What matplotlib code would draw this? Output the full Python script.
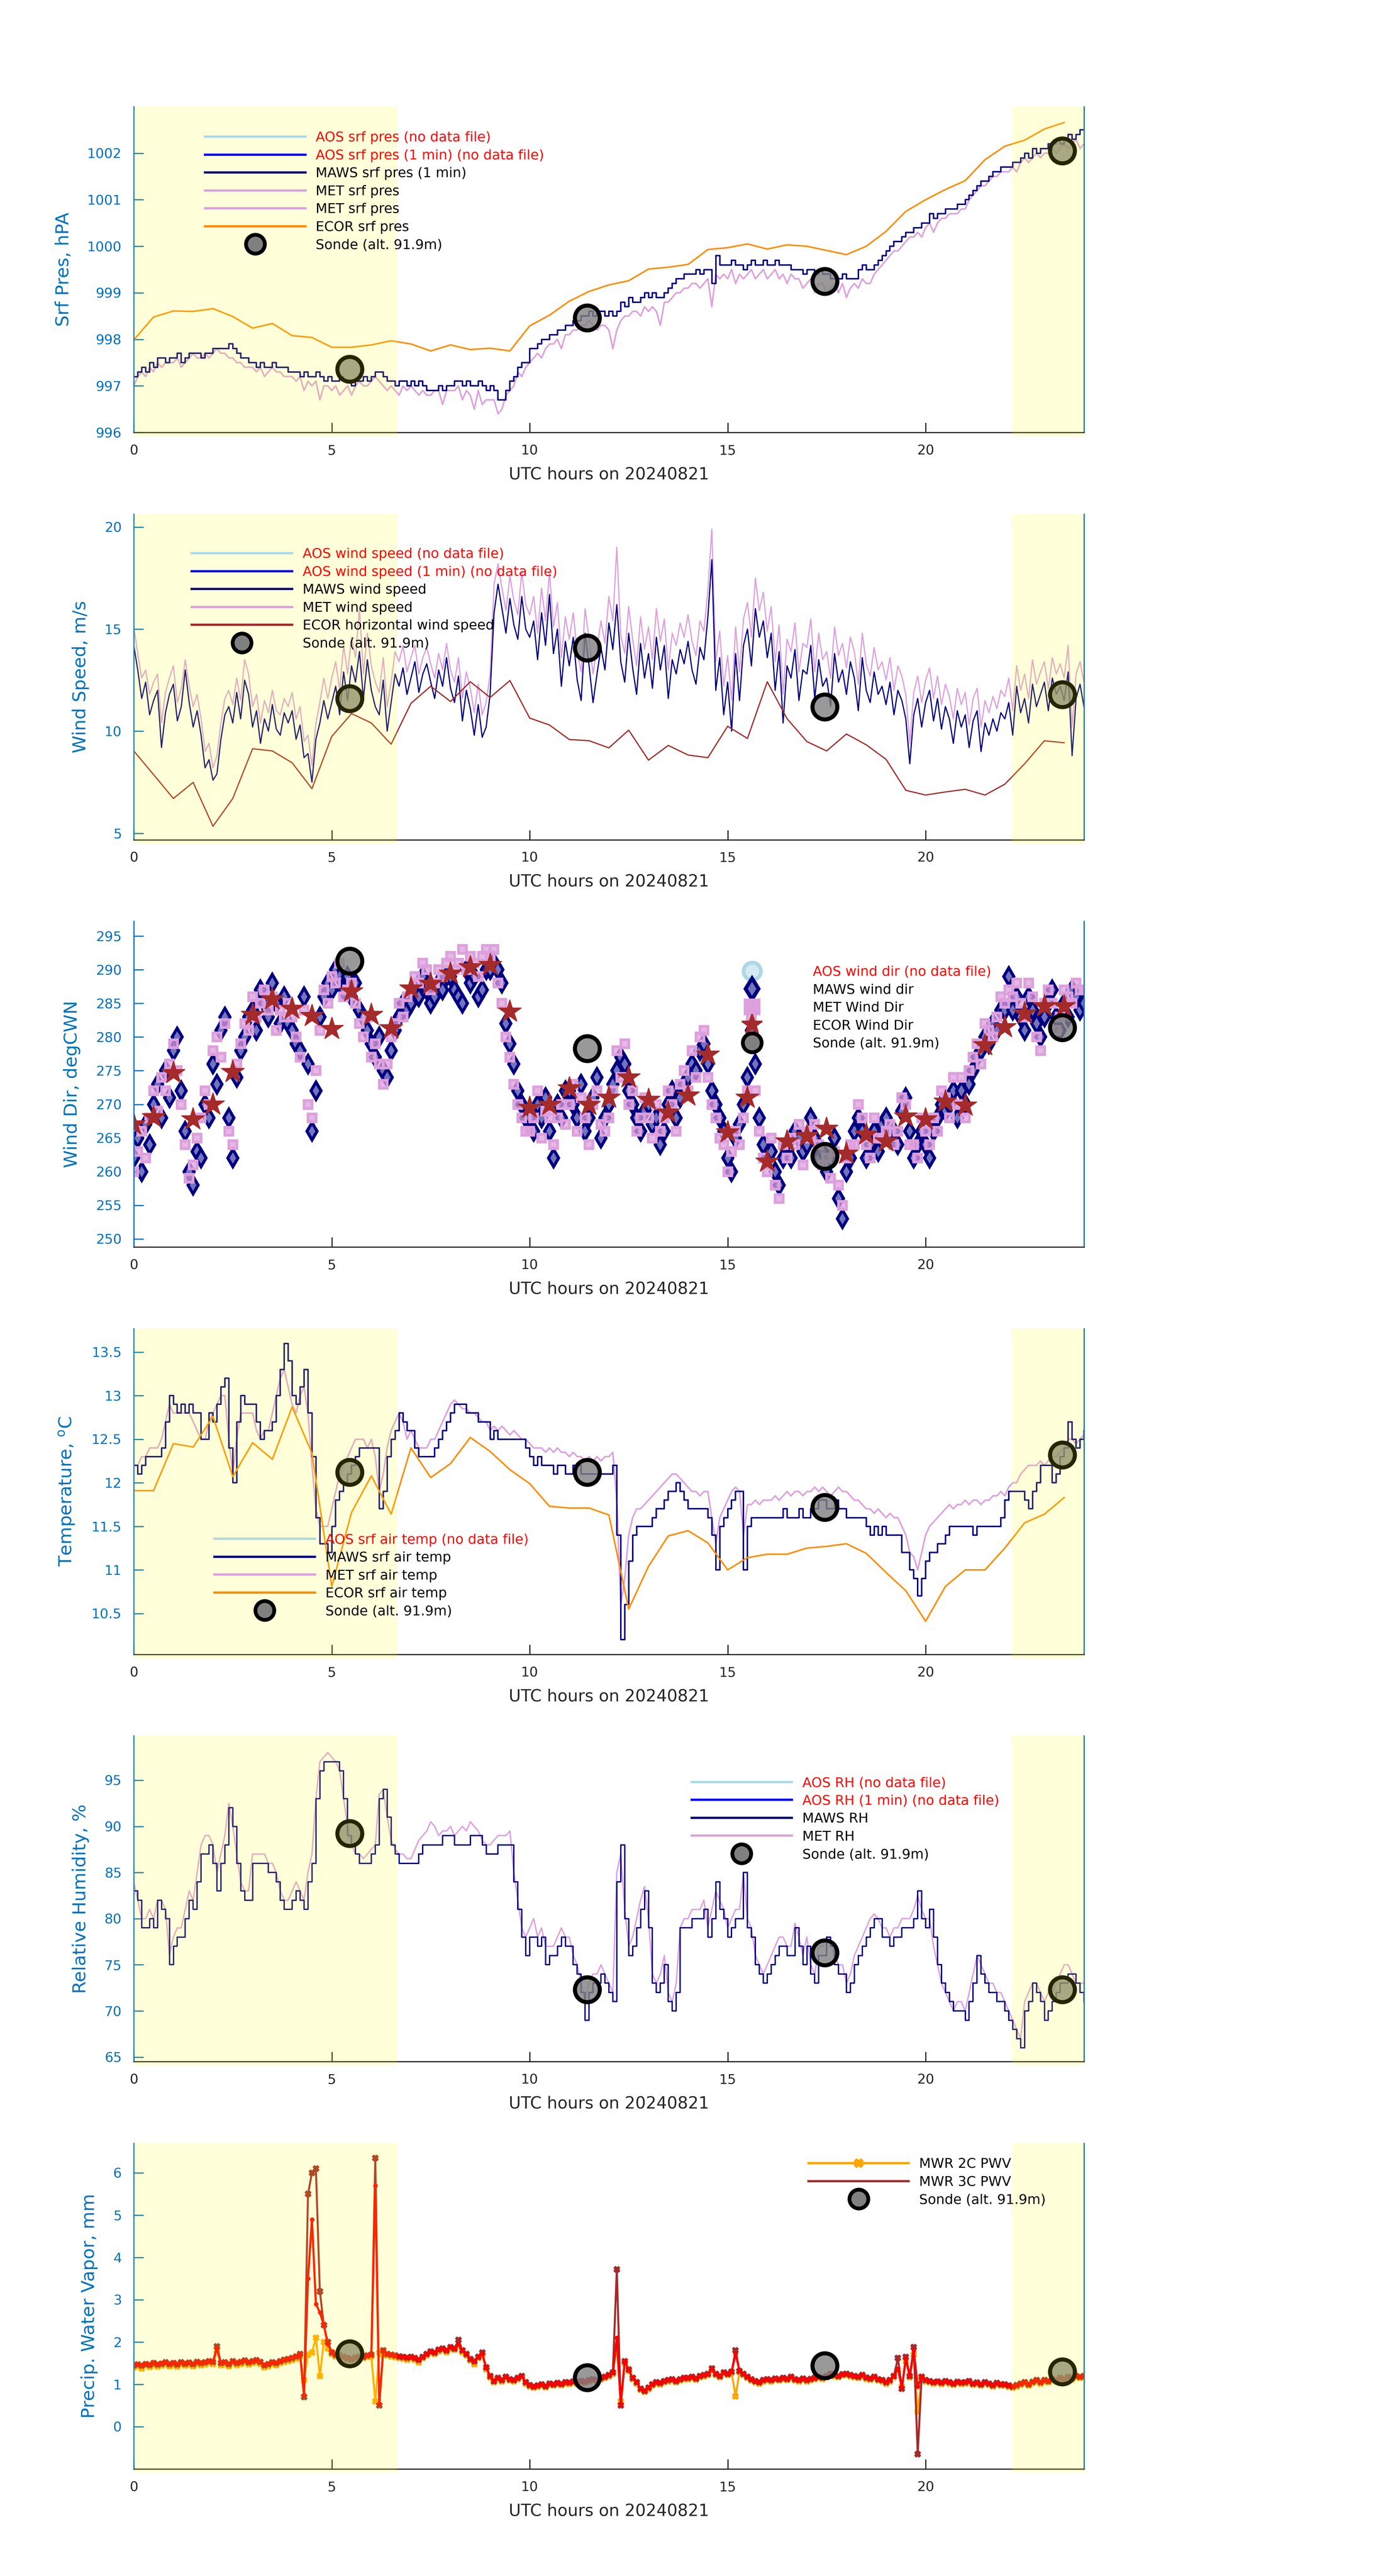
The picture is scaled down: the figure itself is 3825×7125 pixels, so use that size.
import numpy as np
import matplotlib
matplotlib.use("Agg")
import matplotlib.pyplot as plt
from matplotlib.lines import Line2D
from matplotlib.ticker import FormatStrFormatter

# ---------------- data ----------------
date_str = "20240821"
night_spans = [(0.0, 6.65), (22.17, 24.0)]

sonde_t = [5.45, 11.45, 17.45, 23.45]
sonde_pres = [997.36, 998.46, 999.25, 1002.05]
sonde_wspd = [11.6, 14.08, 11.2, 11.79]
sonde_wdir = [291.3, 278.3, 262.3, 281.4]
sonde_temp = [12.12, 12.12, 11.72, 12.32]
sonde_rh = [89.25, 72.3, 76.3, 72.3]
sonde_pwv = [1.73, 1.16, 1.44, 1.30]

# surface pressure, hPa (0.1 h steps, 0..24 h)
maws_pres = [
    997.2, 997.3, 997.4, 997.3, 997.5, 997.4, 997.6, 997.6, 997.5, 997.6,
    997.6, 997.7, 997.5, 997.6, 997.7, 997.7, 997.7, 997.6, 997.7, 997.7,
    997.8, 997.8, 997.8, 997.8, 997.9, 997.8, 997.7, 997.6, 997.6, 997.5,
    997.5, 997.4, 997.5, 997.4, 997.4, 997.5, 997.4, 997.4, 997.4, 997.3,
    997.3, 997.3, 997.2, 997.3, 997.2, 997.2, 997.3, 997.2, 997.1, 997.2,
    997.1, 997.1, 997.2, 997.1, 997.1, 997.0, 997.1, 997.1, 997.2, 997.1,
    997.2, 997.3, 997.3, 997.2, 997.1, 997.1, 997.0, 997.1, 997.1, 997.0,
    997.1, 997.0, 997.1, 997.0, 996.9, 996.9, 996.9, 997.0, 996.9, 997.0,
    997.0, 997.1, 997.1, 997.0, 997.1, 997.0, 997.0, 997.1, 997.0, 996.9,
    997.0, 996.9, 996.7, 996.7, 996.9, 997.1, 997.2, 997.4, 997.5, 997.5,
    997.8, 997.8, 997.9, 998.0, 998.0, 998.1, 998.1, 998.2, 998.2, 998.3,
    998.3, 998.4, 998.4, 998.5, 998.5, 998.6, 998.5, 998.6, 998.6, 998.5,
    998.6, 998.5, 998.6, 998.8, 998.7, 998.9, 998.8, 998.8, 998.9, 999.0,
    998.9, 999.0, 998.9, 998.9, 999.0, 999.1, 999.2, 999.3, 999.3, 999.4,
    999.4, 999.4, 999.5, 999.4, 999.5, 999.5, 999.2, 999.8, 999.6, 999.6,
    999.6, 999.7, 999.6, 999.6, 999.5, 999.6, 999.7, 999.6, 999.6, 999.7,
    999.6, 999.6, 999.7, 999.6, 999.6, 999.6, 999.5, 999.5, 999.5, 999.4,
    999.5, 999.5, 999.4, 999.5, 999.4, 999.4, 999.3, 999.3, 999.3, 999.4,
    999.3, 999.3, 999.3, 999.5, 999.6, 999.5, 999.5, 999.6, 999.7, 999.8,
    999.9, 1000.0, 1000.1, 1000.1, 1000.2, 1000.3, 1000.3, 1000.4, 1000.4, 1000.5,
    1000.5, 1000.7, 1000.6, 1000.7, 1000.7, 1000.8, 1000.8, 1000.8, 1000.9, 1000.9,
    1001.0, 1001.1, 1001.2, 1001.3, 1001.4, 1001.4, 1001.5, 1001.6, 1001.6, 1001.7,
    1001.7, 1001.7, 1001.8, 1001.8, 1001.9, 1002.0, 1001.9, 1002.1, 1002.0, 1002.1,
    1002.1, 1002.2, 1002.2, 1002.3, 1002.2, 1002.3, 1002.4, 1002.3, 1002.4, 1002.5,
    1002.5]
met_pres = [
    997.0, 997.2, 997.3, 997.2, 997.4, 997.3, 997.5, 997.4, 997.5, 997.5,
    997.5, 997.6, 997.4, 997.5, 997.6, 997.7, 997.6, 997.6, 997.7, 997.6,
    997.7, 997.8, 997.7, 997.7, 997.6, 997.6, 997.5, 997.5, 997.4, 997.4,
    997.4, 997.3, 997.4, 997.2, 997.3, 997.4, 997.3, 997.3, 997.2, 997.2,
    997.2, 997.1, 997.2, 996.9, 997.1, 997.0, 997.1, 996.7, 997.0, 997.0,
    996.9, 997.0, 996.8, 996.9, 997.0, 996.8, 997.0, 997.1, 997.0, 997.0,
    997.1, 997.2, 997.1, 997.0, 996.9, 997.0, 996.9, 996.8, 997.0, 996.9,
    997.0, 996.9, 996.8, 996.9, 996.8, 996.8, 996.9, 996.9, 996.6, 996.9,
    996.9, 996.9, 997.0, 996.7, 996.9, 996.8, 996.5, 996.9, 996.6, 996.7,
    996.7, 996.7, 996.4, 996.5, 996.8, 996.9, 997.0, 997.3, 997.2, 997.4,
    997.5, 997.6, 997.7, 997.6, 997.8, 997.9, 997.9, 998.0, 997.8, 998.1,
    998.1, 998.2, 998.2, 998.3, 998.3, 998.4, 998.3, 998.2, 998.3, 998.3,
    998.2, 997.8, 998.2, 998.4, 998.5, 998.5, 998.6, 998.6, 998.5, 998.7,
    998.6, 998.7, 998.6, 998.3, 998.8, 998.8, 998.9, 999.0, 999.0, 999.1,
    999.1, 999.2, 999.2, 999.1, 999.2, 999.3, 998.7, 999.4, 999.3, 999.4,
    999.3, 999.5, 999.2, 999.4, 999.3, 999.4, 999.5, 999.3, 999.4, 999.5,
    999.3, 999.4, 999.5, 999.3, 999.4, 999.2, 999.4, 999.3, 999.3, 999.1,
    999.2, 999.3, 999.0, 999.2, 999.2, 999.0, 999.1, 999.2, 999.0, 999.2,
    998.9, 999.1, 999.2, 999.1, 999.3, 999.2, 999.2, 999.4, 999.5, 999.6,
    999.7, 999.8, 999.9, 999.9, 1000.0, 1000.1, 1000.2, 1000.2, 1000.3, 1000.2,
    1000.4, 1000.5, 1000.3, 1000.5, 1000.6, 1000.6, 1000.7, 1000.7, 1000.7, 1000.8,
    1000.8, 1001.0, 1001.1, 1001.2, 1001.3, 1001.3, 1001.4, 1001.5, 1001.5, 1001.6,
    1001.6, 1001.6, 1001.7, 1001.6, 1001.8, 1001.9, 1001.8, 1001.9, 1002.0, 1001.9,
    1002.0, 1002.0, 1002.1, 1002.0, 1002.1, 1002.2, 1002.1, 1002.2, 1002.3, 1002.1,
    1002.2]
# ECOR, half-hourly
ecor_pres = [
    997.99, 998.48, 998.61, 998.60, 998.66, 998.49, 998.24, 998.34, 998.08, 998.04,
    997.83, 997.83, 997.88, 997.97, 997.90, 997.75, 997.88, 997.78, 997.81, 997.75,
    998.29, 998.52, 998.82, 999.03, 999.17, 999.26, 999.51, 999.55, 999.61, 999.93,
    999.97, 1000.05, 999.94, 1000.03, 1000.00, 999.91, 999.82, 1000.00, 1000.32, 1000.75,
    1001.00, 1001.22, 1001.41, 1001.86, 1002.15, 1002.28, 1002.52, 1002.66]

# wind speed, m/s
maws_wspd = [
    14.2, 13.0, 11.6, 12.4, 10.8, 11.5, 12.0, 9.2, 10.9, 11.8,
    12.3, 10.5, 11.2, 13.0, 11.4, 10.2, 11.0, 9.8, 8.2, 8.6,
    7.6, 7.9, 9.6, 10.8, 11.2, 10.4, 11.9, 10.6, 12.5, 11.8,
    10.2, 11.0, 9.4, 10.6, 10.0, 11.3, 10.1, 9.8, 10.9, 10.4,
    11.0, 9.6, 10.3, 8.7, 8.9, 7.5, 9.6, 10.4, 11.5, 10.6,
    11.4, 12.2, 10.8, 12.9, 11.5, 13.2, 12.4, 13.9, 11.6, 13.5,
    12.0, 11.2, 10.8, 12.5, 10.0, 11.4, 12.8, 12.2, 13.1, 11.8,
    12.6, 13.4, 11.9, 12.8, 13.3, 12.4, 11.6, 13.0, 12.2, 13.6,
    12.1, 11.4, 12.7, 10.5, 12.0, 11.1, 9.8, 11.3, 9.7, 10.2,
    11.8, 15.8, 17.2, 16.0, 14.8, 16.5, 15.2, 14.5, 16.6, 15.0,
    14.6, 15.4, 13.5, 15.8, 14.2, 16.7, 13.8, 15.0, 12.2, 14.4,
    13.2, 14.6, 12.5, 11.5, 14.8, 13.2, 11.4, 12.8, 14.1, 13.0,
    15.3, 14.0, 16.2, 13.4, 12.4, 14.8, 13.1, 11.8, 14.3, 12.6,
    13.8, 12.1, 14.6, 13.0, 14.2, 11.6, 13.5, 12.8, 14.0, 13.3,
    14.4, 13.0, 12.3, 14.1, 13.5, 15.6, 18.4, 12.0, 13.6, 10.8,
    12.4, 10.0, 13.8, 11.5, 14.2, 15.0, 13.2, 16.0, 14.6, 15.4,
    13.6, 14.8, 12.0, 13.9, 10.4, 13.2, 12.6, 14.0, 11.5, 13.0,
    12.8, 14.2, 11.6, 13.5, 12.2, 12.6, 11.2, 13.8, 12.4, 13.0,
    11.8, 13.4, 12.6, 11.0, 13.6, 12.0, 11.4, 12.9, 11.8, 12.2,
    11.3, 12.4, 10.8, 12.0, 11.5, 10.6, 8.4, 10.8, 11.6, 10.2,
    11.4, 12.0, 10.5, 11.6, 10.1, 11.2, 10.6, 9.4, 11.0, 10.2,
    10.8, 9.2, 10.5, 11.0, 9.0, 10.4, 9.8, 10.6, 10.0, 10.9,
    10.6, 11.4, 9.8, 12.2, 10.9, 11.6, 10.4, 12.3, 11.2, 11.8,
    12.4, 11.0, 12.6, 11.8, 12.2, 11.5, 12.9, 8.8, 11.6, 12.3,
    11.2]
met_wspd = [
    15.1, 13.8, 12.6, 13.0, 11.8, 12.4, 12.8, 10.4, 11.9, 12.6,
    13.2, 11.4, 12.1, 13.5, 12.2, 11.2, 11.8, 10.6, 9.0, 9.4,
    8.2, 8.8, 10.4, 11.6, 12.0, 11.3, 12.6, 11.5, 13.5, 12.8,
    11.2, 11.8, 10.4, 11.5, 10.9, 12.0, 11.0, 10.8, 11.6, 11.2,
    11.9, 10.6, 11.2, 9.5, 9.8, 8.3, 10.4, 11.4, 12.6, 11.6,
    12.6, 13.4, 12.0, 14.2, 12.8, 14.6, 13.6, 16.0, 12.8, 14.8,
    13.2, 12.4, 11.9, 13.6, 11.2, 12.4, 13.9, 13.4, 14.2, 12.9,
    13.6, 14.2, 12.8, 13.6, 14.1, 13.3, 12.6, 13.8, 13.0, 14.3,
    13.0, 12.4, 13.6, 11.6, 12.9, 12.1, 10.9, 12.3, 10.8, 11.4,
    12.8, 17.2, 18.2, 17.0, 15.9, 17.6, 16.4, 15.7, 17.8, 16.2,
    15.7, 16.6, 14.8, 17.0, 15.4, 17.8, 15.1, 16.3, 13.6, 15.6,
    14.5, 15.8, 13.9, 12.9, 16.0, 14.5, 12.8, 14.1, 15.4, 14.3,
    16.6, 15.4, 19.0, 14.7, 13.8, 16.1, 14.5, 13.2, 15.6, 14.0,
    15.1, 13.5, 16.0, 14.4, 15.5, 13.0, 14.8, 14.2, 15.3, 14.6,
    15.7, 14.4, 13.7, 15.4, 14.9, 16.9, 19.9, 13.4, 14.9, 12.2,
    13.7, 11.5, 15.1, 12.9, 15.5, 16.3, 14.6, 17.5, 15.9, 16.8,
    14.9, 16.1, 13.4, 15.2, 11.8, 14.5, 13.9, 15.3, 12.9, 14.3,
    14.1, 15.5, 12.9, 14.8, 13.5, 13.9, 12.6, 15.1, 13.7, 14.3,
    13.1, 14.6, 13.9, 12.3, 14.8, 13.3, 12.7, 14.1, 13.0, 13.4,
    12.5, 13.6, 12.0, 13.2, 12.7, 11.8, 9.4, 11.9, 12.7, 11.4,
    12.5, 13.1, 11.6, 12.7, 11.3, 12.3, 11.7, 10.6, 12.1, 11.3,
    11.9, 10.3, 11.6, 12.1, 10.2, 11.5, 10.9, 11.7, 11.1, 12.0,
    11.7, 12.6, 11.0, 13.2, 12.0, 12.8, 11.6, 13.5, 12.3, 12.9,
    13.4, 12.1, 13.6, 12.8, 13.3, 12.6, 14.2, 10.2, 12.8, 13.4,
    12.4]
ecor_wspd = [
    9.03, 7.87, 6.70, 7.49, 5.34, 6.70, 9.14, 9.03, 8.45, 7.18,
    9.74, 10.86, 10.40, 9.36, 11.36, 12.20, 11.45, 12.42, 11.65, 12.48,
    10.64, 10.30, 9.59, 9.53, 9.18, 10.05, 8.58, 9.30, 8.83, 8.70,
    10.24, 9.64, 12.42, 10.61, 9.49, 9.03, 9.86, 9.33, 8.62, 7.10,
    6.87, 7.02, 7.15, 6.87, 7.40, 8.40, 9.53, 9.43]

# wind direction, deg CW from N
maws_wdir = [
    262, 265, 260, 267, 264, 270, 273, 268, 275, 271,
    278, 280, 272, 266, 260, 258, 263, 262, 270, 268,
    276, 273, 281, 283, 268, 262, 274, 278, 280, 283,
    284, 281, 287, 285, 283, 288, 285, 282, 286, 282,
    281, 279, 278, 286, 276, 266, 272, 283, 286, 288,
    287, 290, 289, 287, 289, 286, 288, 284, 283, 281,
    279, 277, 280, 275, 274, 278, 281, 283, 285, 284,
    285, 287, 286, 289, 287, 285, 286, 288, 287, 289,
    289, 287, 286, 285, 290, 288, 289, 286, 287, 290,
    290, 291, 290, 288, 282, 279, 276, 272, 270, 268,
    268, 266, 270, 268, 271, 266, 262, 270, 268, 272,
    272, 270, 268, 273, 266, 268, 271, 274, 265, 268,
    270, 273, 275, 277, 276, 272, 270, 268, 266, 269,
    270, 267, 268, 264, 266, 270, 272, 268, 271, 273,
    274, 276, 275, 278, 279, 276, 272, 270, 268, 266,
    262, 260, 265, 267, 270, 274, 281, 276, 268, 264,
    262, 263, 260, 258, 262, 264, 262, 266, 265, 263,
    264, 268, 265, 262, 263, 260, 262, 265, 256, 253,
    260, 262, 266, 268, 266, 262, 264, 266, 263, 267,
    268, 265, 266, 264, 269, 271, 266, 262, 264, 266,
    264, 262, 266, 268, 270, 269, 270, 272, 268, 272,
    270, 273, 275, 277, 278, 280, 279, 282, 281, 284,
    284, 289, 284, 286, 283, 281, 286, 284, 282, 280,
    283, 285, 287, 283, 281, 285, 283, 287, 286, 284,
    285]
met_wdir = [
    260, 263, 266, 262, 268, 272, 269, 274, 272, 276,
    279, 275, 270, 264, 259, 261, 265, 268, 272, 270,
    278, 280, 277, 282, 266, 264, 276, 279, 282, 281,
    286, 283, 285, 287, 284, 286, 281, 284, 283, 285,
    283, 280, 277, 284, 270, 268, 275, 281, 287, 285,
    289, 288, 291, 286, 287, 288, 285, 282, 280, 283,
    277, 279, 276, 273, 276, 280, 282, 285, 283, 286,
    287, 289, 288, 291, 290, 287, 288, 290, 289, 291,
    292, 290, 291, 293, 290, 292, 291, 289, 292, 293,
    292, 293, 288, 285, 280, 277, 273, 270, 268, 266,
    266, 268, 272, 265, 269, 268, 264, 268, 270, 267,
    270, 273, 266, 271, 268, 264, 270, 272, 267, 266,
    268, 272, 278, 274, 279, 270, 272, 266, 268, 271,
    268, 265, 270, 266, 268, 272, 270, 266, 273, 275,
    272, 278, 274, 280, 281, 274, 270, 268, 265, 264,
    260, 263, 266, 264, 268, 272, 283, 272, 266, 262,
    260, 265, 258, 256, 264, 262, 265, 264, 267, 261,
    266, 265, 267, 264, 261, 262, 259, 263, 258, 255,
    262, 264, 264, 270, 268, 264, 262, 268, 265, 265,
    266, 267, 264, 266, 271, 270, 264, 264, 262, 268,
    266, 264, 268, 266, 272, 271, 268, 274, 270, 274,
    268, 275, 277, 279, 276, 282, 281, 280, 283, 286,
    285, 287, 286, 288, 285, 283, 288, 286, 280, 278,
    285, 287, 285, 281, 283, 287, 286, 285, 288, 287,
    287]
ecor_wdir = [
    267.0, 268.1, 274.65, 267.75, 270.0, 274.8, 283.3, 285.6, 284.2, 283.15,
    281.2, 286.8, 283.3, 281.3, 287.2, 287.9, 289.4, 290.4, 290.7, 283.8,
    269.5, 269.9, 272.4, 269.9, 271.0, 274.0, 270.65, 268.8, 271.3, 277.4,
    265.85, 271.0, 261.5, 264.5, 265.3, 266.4, 262.65, 265.5, 264.5, 268.2,
    267.75, 270.4, 269.8, 278.8, 281.45, 283.5, 284.6, 284.6]

# air temperature, deg C
maws_temp = [
    12.2, 12.1, 12.2, 12.3, 12.3, 12.3, 12.3, 12.4, 12.7, 13.0,
    12.9, 12.8, 12.9, 12.8, 12.9, 12.8, 12.8, 12.5, 12.5, 12.8,
    12.7, 12.9, 13.1, 13.2, 12.4, 12.0, 12.7, 13.0, 12.9, 12.9,
    12.9, 12.7, 12.5, 12.6, 12.6, 12.7, 13.0, 13.3, 13.6, 13.4,
    13.0, 12.9, 13.1, 13.3, 12.8, 12.3, 11.6, 11.3, 11.3, 11.2,
    11.5, 11.8, 11.9, 12.0, 12.1, 12.2, 12.3, 12.4, 12.4, 12.4,
    12.4, 12.4, 11.7, 11.9, 12.3, 12.5, 12.6, 12.8, 12.7, 12.6,
    12.6, 12.4, 12.3, 12.3, 12.3, 12.3, 12.4, 12.5, 12.6, 12.7,
    12.8, 12.9, 12.9, 12.9, 12.8, 12.8, 12.8, 12.7, 12.7, 12.7,
    12.5, 12.6, 12.5, 12.5, 12.5, 12.5, 12.5, 12.5, 12.5, 12.4,
    12.3, 12.2, 12.3, 12.2, 12.2, 12.2, 12.1, 12.2, 12.2, 12.1,
    12.1, 12.2, 12.2, 12.1, 12.1, 12.1, 12.1, 12.1, 12.1, 12.1,
    12.1, 12.2, 11.4, 10.2, 10.6, 11.1, 11.4, 11.5, 11.5, 11.5,
    11.5, 11.6, 11.7, 11.7, 11.8, 11.9, 11.9, 12.0, 11.9, 11.8,
    11.7, 11.7, 11.7, 11.7, 11.7, 11.6, 11.4, 11.0, 11.5, 11.6,
    11.7, 11.8, 11.9, 11.9, 11.0, 11.5, 11.6, 11.6, 11.6, 11.6,
    11.6, 11.6, 11.6, 11.6, 11.7, 11.6, 11.6, 11.6, 11.7, 11.6,
    11.6, 11.7, 11.7, 11.8, 11.8, 11.7, 11.7, 11.8, 11.7, 11.7,
    11.6, 11.6, 11.6, 11.6, 11.6, 11.5, 11.4, 11.5, 11.4, 11.5,
    11.4, 11.4, 11.4, 11.4, 11.2, 11.2, 11.0, 10.9, 10.7, 10.9,
    11.1, 11.2, 11.2, 11.3, 11.3, 11.4, 11.5, 11.5, 11.5, 11.5,
    11.5, 11.5, 11.4, 11.5, 11.5, 11.5, 11.5, 11.5, 11.5, 11.6,
    11.8, 11.9, 11.9, 11.9, 11.9, 11.8, 11.7, 11.9, 12.0, 12.2,
    12.2, 12.2, 12.0, 12.1, 12.3, 12.4, 12.7, 12.5, 12.4, 12.5,
    12.6]
met_temp = [
    12.2, 12.2, 12.3, 12.3, 12.4, 12.4, 12.4, 12.5, 12.7, 12.9,
    12.8, 12.8, 12.8, 12.8, 12.8, 12.7, 12.6, 12.5, 12.5, 12.7,
    12.8, 12.9, 13.0, 13.0, 12.5, 12.1, 12.5, 12.8, 12.8, 12.8,
    12.8, 12.6, 12.5, 12.6, 12.6, 12.8, 13.0, 13.2, 13.3, 13.1,
    12.9, 12.8, 13.0, 13.1, 12.8, 12.2, 11.7, 11.5, 11.5, 11.5,
    11.7, 11.9, 12.1, 12.2, 12.3, 12.4, 12.5, 12.5, 12.5, 12.4,
    12.5, 12.3, 11.9, 12.1, 12.4, 12.6, 12.7, 12.8, 12.7, 12.5,
    12.6, 12.5, 12.4, 12.4, 12.4, 12.5, 12.5, 12.6, 12.7, 12.8,
    12.9, 12.95, 12.9, 12.85, 12.85, 12.8, 12.8, 12.75, 12.7, 12.7,
    12.6, 12.65, 12.6, 12.65, 12.6, 12.55, 12.6, 12.55, 12.5, 12.5,
    12.45, 12.4, 12.4, 12.4, 12.35, 12.4, 12.35, 12.4, 12.35, 12.35,
    12.3, 12.35, 12.3, 12.3, 12.25, 12.3, 12.25, 12.3, 12.25, 12.3,
    12.3, 12.35, 11.8, 10.6, 10.9, 11.4, 11.6, 11.7, 11.7, 11.75,
    11.8, 11.85, 11.9, 11.95, 12.0, 12.05, 12.1, 12.1, 12.05, 12.0,
    11.95, 11.9, 11.9, 11.85, 11.9, 11.9, 11.6, 11.3, 11.6, 11.7,
    11.8, 11.9, 11.95, 11.9, 11.4, 11.75, 11.75, 11.8, 11.75, 11.8,
    11.8, 11.8, 11.85, 11.8, 11.85, 11.9, 11.85, 11.9, 11.9, 11.85,
    11.9, 11.9, 11.95, 11.9, 11.95, 11.9, 11.85, 11.9, 11.95, 11.9,
    11.9, 11.85, 11.8, 11.8, 11.75, 11.7, 11.7, 11.65, 11.7, 11.65,
    11.6, 11.65, 11.6, 11.6, 11.5, 11.4, 11.2, 11.15, 11.0, 11.2,
    11.4, 11.5, 11.55, 11.6, 11.65, 11.7, 11.75, 11.7, 11.75, 11.75,
    11.8, 11.75, 11.8, 11.8, 11.75, 11.8, 11.8, 11.85, 11.85, 11.9,
    11.85, 11.95, 12.0, 12.0, 12.1, 12.15, 12.2, 12.2, 12.2, 12.25,
    12.2, 12.25, 12.3, 12.3, 12.35, 12.4, 12.5, 12.5, 12.45, 12.5,
    12.55]
ecor_temp = [
    11.91, 11.91, 12.45, 12.41, 12.76, 12.07, 12.46, 12.27, 12.87, 12.34,
    10.81, 11.66, 12.08, 11.64, 12.40, 12.06, 12.22, 12.52, 12.36, 12.15,
    11.99, 11.73, 11.71, 11.71, 11.63, 10.55, 11.04, 11.39, 11.45, 11.31,
    11.00, 11.14, 11.18, 11.18, 11.25, 11.27, 11.30, 11.19, 10.97, 10.76,
    10.41, 10.81, 11.00, 11.00, 11.25, 11.54, 11.64, 11.83]

# relative humidity, %
maws_rh = [
    83, 82, 79, 79, 80, 79, 82, 81, 80, 75,
    77, 78, 78, 80, 82, 81, 84, 87, 87, 88,
    86, 83, 86, 88, 92, 90, 86, 83, 82, 82,
    86, 86, 86, 86, 85, 85, 84, 82, 81, 81,
    82, 83, 82, 81, 84, 86, 93, 96, 97, 97,
    97, 97, 96, 93, 89, 88, 87, 86, 86, 86,
    87, 88, 93, 94, 91, 88, 87, 86, 86, 86,
    86, 86, 87, 88, 88, 88, 88, 88, 89, 89,
    89, 88, 88, 88, 88, 89, 89, 89, 88, 87,
    87, 87, 88, 88, 88, 88, 84, 81, 78, 76,
    78, 78, 77, 78, 75, 76, 76, 77, 78, 77,
    77, 75, 74, 72, 69, 72, 73, 73, 74, 73,
    72, 71, 84, 88, 80, 76, 77, 79, 81, 83,
    79, 73, 72, 73, 75, 71, 70, 72, 79, 79,
    79, 80, 80, 80, 81, 78, 80, 84, 81, 80,
    78, 79, 80, 80, 85, 79, 78, 75, 74, 73,
    74, 75, 76, 77, 77, 76, 76, 79, 77, 75,
    77, 74, 73, 76, 76, 78, 77, 75, 74, 74,
    72, 73, 75, 76, 77, 78, 79, 80, 80, 78,
    78, 77, 78, 78, 79, 79, 79, 80, 83, 80,
    79, 81, 78, 75, 73, 72, 71, 70, 70, 70,
    69, 71, 73, 76, 74, 73, 72, 72, 71, 71,
    70, 69, 68, 67, 66, 70, 71, 73, 72, 71,
    69, 70, 71, 72, 73, 73, 74, 74, 73, 72,
    71]
met_rh = [
    84, 82, 80, 80, 81, 80, 82, 82, 81, 76,
    78, 79, 79, 81, 83, 82, 85, 88, 89, 89,
    88, 85, 87, 89, 92.5, 90, 87, 84, 83, 83,
    87, 87, 87, 87, 86, 86, 85, 83, 82, 82,
    83, 84, 83, 82, 85, 87, 93, 97, 97.5, 98,
    97.5, 97, 96, 93, 90, 88, 87, 87, 86.5, 87,
    87.5, 88, 93.5, 94, 91, 88.5, 87.5, 87, 87, 86.5,
    86.5, 87.5, 88.5, 89, 89.5, 90.5, 90, 89, 89.5, 89.5,
    90, 89, 89.5, 90, 89.5, 90.5, 90, 89.5, 88.5, 88,
    88, 88.5, 89, 89, 89, 89.5, 85, 82, 79, 78,
    79, 80, 78, 79, 77, 77, 77, 78, 79, 78,
    78, 76, 75, 73, 71, 73, 74, 74, 75, 74,
    73, 72, 85, 87, 81, 77, 78, 80, 82, 83.5,
    80, 74, 73, 74, 76, 72, 71, 73, 79, 80,
    80, 81, 81, 81, 82, 79, 81, 83, 82, 81,
    79, 80, 81, 81, 85, 80, 79, 76, 75, 74,
    75, 76, 77, 78, 78, 77, 77, 79.5, 78, 76,
    78, 75, 74, 77, 77, 78, 77.5, 76, 75, 75,
    73, 74, 76, 77, 78, 79, 80, 80.5, 80, 79,
    79, 78, 79, 79, 80, 80, 80, 81, 82.5, 81,
    80, 80, 77, 75, 73, 72, 71, 70, 71, 71,
    70, 72, 74, 76, 75, 74, 73, 73, 72, 72,
    71, 70, 69, 68, 67, 71, 72, 73, 73, 72,
    71, 72, 72, 73, 74, 75, 75, 74, 73, 73,
    73]

# precipitable water vapour, mm
pwv_2c = [
    1.40, 1.43, 1.38, 1.44, 1.41, 1.45, 1.42, 1.44, 1.47, 1.43,
    1.45, 1.42, 1.47, 1.44, 1.46, 1.43, 1.48, 1.45, 1.47, 1.50,
    1.48, 1.80, 1.45, 1.47, 1.43, 1.50, 1.45, 1.48, 1.51, 1.47,
    1.50, 1.52, 1.48, 1.40, 1.43, 1.47, 1.45, 1.50, 1.53, 1.55,
    1.57, 1.61, 1.66, 1.10, 1.70, 1.75, 2.10, 1.20, 2.00, 1.85,
    1.72, 1.66, 1.64, 1.62, 1.58, 1.57, 1.60, 1.62, 1.62, 1.65,
    1.66, 0.60, 1.75, 1.70, 1.68, 1.66, 1.64, 1.62, 1.61, 1.58,
    1.62, 1.58, 1.52, 1.62, 1.68, 1.74, 1.72, 1.78, 1.82, 1.76,
    1.84, 1.82, 1.90, 1.76, 1.68, 1.56, 1.48, 1.62, 1.70, 1.36,
    1.16, 1.05, 1.12, 1.07, 1.15, 1.09, 1.07, 1.12, 1.17, 1.02,
    0.95, 0.92, 0.94, 0.97, 0.93, 0.99, 0.97, 1.00, 0.98, 1.02,
    1.01, 1.04, 1.02, 1.05, 1.03, 1.07, 1.09, 1.07, 1.12, 1.15,
    1.19, 1.25, 1.90, 0.60, 1.50, 1.32, 1.12, 1.02, 0.87, 0.82,
    0.89, 0.97, 1.02, 1.00, 1.05, 1.07, 1.09, 1.05, 1.09, 1.12,
    1.12, 1.15, 1.11, 1.17, 1.19, 1.22, 1.32, 1.22, 1.17, 1.25,
    1.22, 1.27, 0.72, 1.29, 1.22, 1.15, 1.09, 1.05, 1.02, 1.07,
    1.09, 1.07, 1.11, 1.09, 1.12, 1.10, 1.15, 1.09, 1.07, 1.11,
    1.07, 1.10, 1.12, 1.15, 1.13, 1.17, 1.22, 1.19, 1.17, 1.21,
    1.22, 1.19, 1.17, 1.15, 1.19, 1.13, 1.11, 1.15, 1.09, 1.07,
    1.02, 1.07, 1.17, 1.35, 0.95, 1.55, 1.17, 1.70, 0.35, 1.15,
    1.07, 1.05, 1.02, 1.04, 1.01, 1.05, 1.02, 0.99, 1.03, 1.01,
    1.02, 1.05, 0.99, 1.01, 0.97, 1.02, 0.99, 0.95, 1.00, 0.97,
    0.97, 0.94, 0.92, 0.95, 0.99, 1.02, 0.97, 1.03, 1.07, 1.02,
    1.07, 1.05, 1.09, 1.07, 1.12, 1.09, 1.15, 1.12, 1.17, 1.15,
    1.17]
pwv_3c = [
    1.45, 1.47, 1.44, 1.48, 1.46, 1.50, 1.47, 1.49, 1.52, 1.48,
    1.50, 1.47, 1.52, 1.49, 1.51, 1.48, 1.53, 1.50, 1.52, 1.55,
    1.53, 1.90, 1.50, 1.52, 1.48, 1.55, 1.50, 1.53, 1.56, 1.52,
    1.55, 1.57, 1.53, 1.45, 1.48, 1.52, 1.50, 1.55, 1.58, 1.60,
    1.62, 1.66, 1.72, 0.70, 5.50, 6.00, 6.10, 3.20, 2.40, 2.00,
    1.75, 1.70, 1.68, 1.65, 1.62, 1.60, 1.63, 1.66, 1.65, 1.68,
    1.70, 6.35, 0.50, 1.80, 1.72, 1.70, 1.68, 1.66, 1.65, 1.63,
    1.65, 1.62, 1.58, 1.65, 1.72, 1.78, 1.75, 1.82, 1.85, 1.80,
    1.88, 1.85, 2.05, 1.80, 1.72, 1.60, 1.55, 1.65, 1.75, 1.40,
    1.20, 1.08, 1.15, 1.10, 1.18, 1.12, 1.10, 1.15, 1.20, 1.05,
    0.98, 0.95, 0.97, 1.00, 0.96, 1.02, 1.00, 1.03, 1.01, 1.05,
    1.04, 1.07, 1.05, 1.08, 1.06, 1.10, 1.12, 1.10, 1.15, 1.18,
    1.22, 1.28, 3.72, 0.50, 1.55, 1.35, 1.15, 1.05, 0.90, 0.85,
    0.92, 1.00, 1.05, 1.03, 1.08, 1.10, 1.12, 1.08, 1.12, 1.15,
    1.15, 1.18, 1.14, 1.20, 1.22, 1.25, 1.38, 1.25, 1.20, 1.28,
    1.25, 1.30, 1.80, 1.32, 1.25, 1.18, 1.12, 1.08, 1.05, 1.10,
    1.12, 1.10, 1.14, 1.12, 1.15, 1.13, 1.18, 1.12, 1.10, 1.14,
    1.10, 1.13, 1.15, 1.18, 1.16, 1.20, 1.25, 1.22, 1.20, 1.24,
    1.25, 1.22, 1.20, 1.18, 1.22, 1.16, 1.14, 1.18, 1.12, 1.10,
    1.05, 1.10, 1.20, 1.62, 0.90, 1.65, 1.20, 1.88, -0.65, 1.18,
    1.10, 1.08, 1.05, 1.07, 1.04, 1.08, 1.05, 1.02, 1.06, 1.04,
    1.05, 1.08, 1.02, 1.04, 1.00, 1.05, 1.02, 0.98, 1.03, 1.00,
    1.00, 0.97, 0.95, 0.98, 1.02, 1.05, 1.00, 1.06, 1.10, 1.05,
    1.10, 1.08, 1.12, 1.10, 1.15, 1.12, 1.18, 1.15, 1.20, 1.18,
    1.20]
pwv_3c_qc = [
    1.46, 1.48, 1.45, 1.49, 1.47, 1.51, 1.48, 1.50, 1.52, 1.49,
    1.51, 1.48, 1.52, 1.50, 1.52, 1.49, 1.53, 1.51, 1.53, 1.55,
    1.54, 1.85, 1.51, 1.53, 1.49, 1.55, 1.51, 1.54, 1.56, 1.53,
    1.55, 1.57, 1.53, 1.46, 1.49, 1.52, 1.51, 1.55, 1.58, 1.61,
    1.63, 1.67, 1.72, 0.75, 3.50, 4.90, 2.90, 2.70, 2.40, 1.95,
    1.78, 1.70, 1.68, 1.65, 1.62, 1.61, 1.63, 1.66, 1.65, 1.68,
    1.70, 5.70, 0.55, 1.80, 1.72, 1.70, 1.68, 1.66, 1.65, 1.63,
    1.65, 1.62, 1.58, 1.65, 1.72, 1.78, 1.75, 1.82, 1.85, 1.80,
    1.88, 1.85, 1.95, 1.80, 1.72, 1.60, 1.55, 1.65, 1.72, 1.40,
    1.20, 1.08, 1.15, 1.10, 1.18, 1.12, 1.10, 1.15, 1.20, 1.05,
    0.98, 0.95, 0.97, 1.00, 0.96, 1.02, 1.00, 1.03, 1.01, 1.05,
    1.04, 1.07, 1.05, 1.08, 1.06, 1.10, 1.12, 1.10, 1.15, 1.18,
    1.22, 1.28, 2.10, 0.52, 1.55, 1.35, 1.15, 1.05, 0.90, 0.85,
    0.92, 1.00, 1.05, 1.03, 1.08, 1.10, 1.12, 1.08, 1.12, 1.15,
    1.15, 1.18, 1.14, 1.20, 1.22, 1.25, 1.36, 1.25, 1.20, 1.28,
    1.25, 1.30, 1.72, 1.32, 1.25, 1.18, 1.12, 1.08, 1.05, 1.10,
    1.12, 1.10, 1.14, 1.12, 1.15, 1.13, 1.18, 1.12, 1.10, 1.14,
    1.10, 1.13, 1.15, 1.18, 1.16, 1.20, 1.25, 1.22, 1.20, 1.24,
    1.25, 1.22, 1.20, 1.18, 1.22, 1.16, 1.14, 1.18, 1.12, 1.10,
    1.05, 1.10, 1.20, 1.38, 0.92, 1.60, 1.20, 1.80, 0.95, 1.18,
    1.10, 1.08, 1.05, 1.07, 1.04, 1.08, 1.05, 1.02, 1.06, 1.04,
    1.05, 1.08, 1.02, 1.04, 1.00, 1.05, 1.02, 0.98, 1.03, 1.00,
    1.00, 0.97, 0.95, 0.98, 1.02, 1.05, 1.00, 1.06, 1.10, 1.05,
    1.10, 1.08, 1.12, 1.10, 1.15, 1.12, 1.18, 1.15, 1.20, 1.18,
    1.20]

# ---------------- styling ----------------
BLUE = '#0072bd'
DARK = '#262626'
NAVY = '#000080'
PLUM = '#dda0dd'
LBLUE = '#add8e6'
SONDE_LABEL = 'Sonde (alt. 91.9m)'

W, H = 3825, 7125
AX_L, AX_W, AX_H = 370, 2628, 901
AX_TOP0, AX_STEP = 295, 1126.6


def tgrid(vals):
    return np.linspace(0, 24, len(vals))


def thalf(vals):
    return np.arange(len(vals)) * 0.5


def make_axes(fig, i):
    top = AX_TOP0 + i * AX_STEP
    return fig.add_axes([AX_L / W, 1 - (top + AX_H) / H, AX_W / W, AX_H / H])


def style_axes(ax, ylim, yticks, ylabel, shade=True):
    ax.set_xlim(0, 24)
    ax.set_ylim(*ylim)
    ax.set_xticks([0, 5, 10, 15, 20])
    ax.set_yticks(yticks)
    ax.yaxis.set_major_formatter(FormatStrFormatter('%g'))
    ax.tick_params(axis='x', direction='in', length=6.5, width=0.8,
                   colors=DARK, labelsize=9, pad=8)
    ax.tick_params(axis='y', direction='in', length=6.5, width=0.8,
                   colors=BLUE, labelsize=9, pad=8)
    ax.spines['top'].set_visible(False)
    ax.spines['left'].set_color(BLUE)
    ax.spines['right'].set_color(BLUE)
    ax.spines['bottom'].set_color(DARK)
    ax.set_xlabel('UTC hours on ' + date_str, fontsize=11, color=DARK, labelpad=6)
    ax.set_ylabel(ylabel, fontsize=12, color=BLUE, labelpad=10)
    if shade:
        for a, b in night_spans:
            ax.axvspan(a, b, ymin=-0.012, ymax=1, color='yellow', alpha=0.15,
                       lw=0, zorder=10, clip_on=False)


def plot_sonde(ax, vals):
    ax.plot(sonde_t, vals, ls='none', marker='o', ms=16.5,
            mfc=(0.5, 0.5, 0.5, 0.8), mec='black', mew=2.7, zorder=6)


def sonde_handle():
    return Line2D([], [], ls='none', marker='o', ms=12.5, mfc='#808080',
                  mec='black', mew=2.5)


def line_handle(color, **kw):
    return Line2D([], [], color=color, lw=1.5, **kw)


def add_legend(ax, handles, labels, anchor, red_rows=()):
    leg = ax.legend(handles, labels, loc='upper left', bbox_to_anchor=anchor,
                    frameon=False, fontsize=9, handlelength=7.4,
                    handletextpad=0.77, labelspacing=0.36, borderpad=0,
                    borderaxespad=0, numpoints=1)
    for i, txt in enumerate(leg.get_texts()):
        if i in red_rows:
            txt.set_color('red')
    leg.set_zorder(20)


fig = plt.figure(figsize=(W / 300, H / 300), dpi=300)

# 1. surface pressure
ax = make_axes(fig, 0)
ax.plot(tgrid(met_pres), met_pres, color=PLUM, lw=1.0)
ax.plot(tgrid(maws_pres), maws_pres, color=NAVY, lw=1.0, drawstyle='steps-post')
ax.plot(thalf(ecor_pres), ecor_pres, color='#ff8c00', lw=1.0)
plot_sonde(ax, sonde_pres)
style_axes(ax, (996, 1003), range(996, 1003), 'Srf Pres, hPA')
add_legend(ax,
           [line_handle(LBLUE), line_handle('#0000ff'), line_handle(NAVY),
            line_handle(PLUM), line_handle(PLUM), line_handle('#ff8c00'),
            sonde_handle()],
           ['AOS srf pres (no data file)', 'AOS srf pres (1 min) (no data file)',
            'MAWS srf pres (1 min)', 'MET srf pres', 'MET srf pres',
            'ECOR srf pres', SONDE_LABEL],
           (0.075, 0.924), red_rows=(0, 1))

# 2. wind speed
ax = make_axes(fig, 1)
ax.plot(tgrid(met_wspd), met_wspd, color=PLUM, lw=0.8)
ax.plot(tgrid(maws_wspd), maws_wspd, color=NAVY, lw=0.8)
ax.plot(thalf(ecor_wspd), ecor_wspd, color='#a52a2a', lw=0.8)
plot_sonde(ax, sonde_wspd)
style_axes(ax, (4.68, 20.64), [5, 10, 15, 20], 'Wind Speed, m/s')
add_legend(ax,
           [line_handle(LBLUE), line_handle('#0000ff'), line_handle(NAVY),
            line_handle(PLUM), line_handle('#a52a2a'), sonde_handle()],
           ['AOS wind speed (no data file)', 'AOS wind speed (1 min) (no data file)',
            'MAWS wind speed', 'MET wind speed', 'ECOR horizontal wind speed',
            SONDE_LABEL],
           (0.061, 0.896), red_rows=(0, 1))

# 3. wind direction (markers only, no night shading)
ax = make_axes(fig, 2)
ax.plot(tgrid(maws_wdir), maws_wdir, ls='none', marker='d', ms=8,
        mfc='#7474bd', mec=NAVY, mew=2)
ax.plot(tgrid(met_wdir), met_wdir, ls='none', marker='s', ms=5.2,
        mfc=(0.867, 0.627, 0.867, 0.75), mec=PLUM, mew=1.8)
ax.plot(thalf(ecor_wdir), ecor_wdir, ls='none', marker='*', ms=16,
        mfc='#a52a2a', mec='#a52a2a', mew=0.5)
plot_sonde(ax, sonde_wdir)
style_axes(ax, (248.8, 297.2), range(250, 296, 5), 'Wind Dir, degCWN', shade=False)
add_legend(ax,
           [Line2D([], [], ls='none', marker='o', ms=11.5, mfc=(0.68, 0.85, 0.9, 0.5),
                   mec=LBLUE, mew=2.5),
            Line2D([], [], ls='none', marker='d', ms=10, mfc='#7474bd', mec=NAVY, mew=2.5),
            Line2D([], [], ls='none', marker='s', ms=10, mfc=PLUM, mec=PLUM),
            Line2D([], [], ls='none', marker='*', ms=14, mfc='#a52a2a', mec='#a52a2a'),
            sonde_handle()],
           ['AOS wind dir (no data file)', 'MAWS wind dir', 'MET Wind Dir',
            'ECOR Wind Dir', SONDE_LABEL],
           (0.598, 0.864), red_rows=(0,))

# 4. air temperature
ax = make_axes(fig, 3)
ax.plot(tgrid(met_temp), met_temp, color=PLUM, lw=1.0)
ax.plot(tgrid(maws_temp), maws_temp, color=NAVY, lw=1.0, drawstyle='steps-post')
ax.plot(thalf(ecor_temp), ecor_temp, color='#ff8c00', lw=1.0)
plot_sonde(ax, sonde_temp)
style_axes(ax, (10.03, 13.77), [10.5, 11, 11.5, 12, 12.5, 13, 13.5],
           'Temperature, $^{\\rm o}$C')
add_legend(ax,
           [line_handle(LBLUE), line_handle(NAVY), line_handle(PLUM),
            line_handle('#ff8c00'), sonde_handle()],
           ['AOS srf air temp (no data file)', 'MAWS srf air temp',
            'MET srf air temp', 'ECOR srf air temp', SONDE_LABEL],
           (0.085, 0.371), red_rows=(0,))

# 5. relative humidity
ax = make_axes(fig, 4)
ax.plot(tgrid(met_rh), met_rh, color=PLUM, lw=0.9)
ax.plot(tgrid(maws_rh), maws_rh, color=NAVY, lw=0.9, drawstyle='steps-post')
plot_sonde(ax, sonde_rh)
style_axes(ax, (64.5, 99.8), range(65, 96, 5), 'Relative Humidity, %')
add_legend(ax,
           [line_handle(LBLUE), line_handle('#0000ff'), line_handle(NAVY),
            line_handle(PLUM), sonde_handle()],
           ['AOS RH (no data file)', 'AOS RH (1 min) (no data file)',
            'MAWS RH', 'MET RH', SONDE_LABEL],
           (0.587, 0.875), red_rows=(0, 1))

# 6. precipitable water vapour
ax = make_axes(fig, 5)
ax.plot(tgrid(pwv_2c), pwv_2c, color='#ffa500', lw=1.3, marker='X', ms=3.5)
ax.plot(tgrid(pwv_3c), pwv_3c, color='#a52a2a', lw=1.3, marker='X', ms=3.5)
ax.plot(tgrid(pwv_3c_qc), pwv_3c_qc, color='red', lw=1.4, marker='o', ms=2.0)
plot_sonde(ax, sonde_pwv)
style_axes(ax, (-1.0, 6.7), range(0, 7), 'Precip. Water Vapor, mm')
add_legend(ax,
           [line_handle('#ffa500', marker='X', ms=5.5), line_handle('#a52a2a'),
            sonde_handle()],
           ['MWR 2C PWV', 'MWR 3C PWV', SONDE_LABEL],
           (0.710, 0.955))

fig.savefig('out.png', dpi=300)
